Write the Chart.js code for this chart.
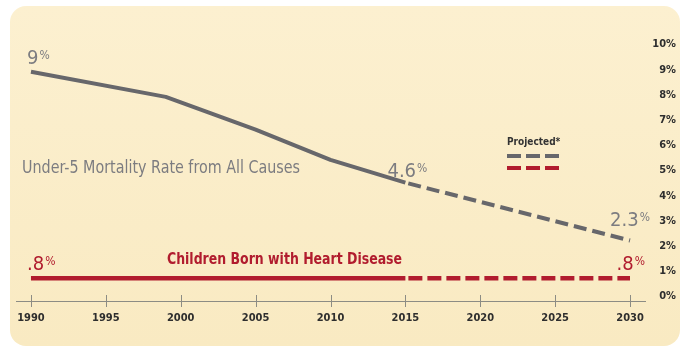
<!DOCTYPE html>
<html>
<head>
<meta charset="utf-8">
<script src="https://cdn.jsdelivr.net/npm/chart.js@4"></script>
<style>
  html, body { margin: 0; padding: 0; background: #ffffff; }
  #wrap { width: 682px; height: 354px; }
</style>
</head>
<body>
<div id="wrap"><canvas id="chart" width="682" height="354"></canvas></div>
<script>
// Under-5 mortality rate (%), measured years
const mortalityYears = [1990, 1999, 2005, 2010, 2015];
const mortalityRate = [9, 8.0, 6.7, 5.5, 4.6];
// Under-5 mortality rate (%), projection
const mortalityProjYears = [2015, 2030];
const mortalityProjRate = [4.6, 2.3];
// Children born with heart disease (%), measured and projected
const heartYears = [1990, 2015];
const heartRate = [0.8, 0.8];
const heartProjYears = [2015, 2030];
const heartProjRate = [0.8, 0.8];
// Axis ticks
const xTickYears = [1990, 1995, 2000, 2005, 2010, 2015, 2020, 2025, 2030];
const yTickValues = [0, 1, 2, 3, 4, 5, 6, 7, 8, 9, 10];

const FONT = '"Liberation Sans Narrow", "DejaVu Sans Condensed", "Roboto Condensed", sans-serif';
const GRAY_LINE = '#67676b';
const GRAY_TEXT = '#7c7c80';
const RED = '#b11c2e';
const AXIS = '#8c8c84';

const toPoints = (xs, ys) => xs.map((x, i) => ({ x, y: ys[i] }));

// Cream rounded panel behind everything
const panelPlugin = {
  id: 'panel',
  beforeDraw(chart) {
    const ctx = chart.ctx;
    const x = 10, y = 6, w = 670, h = 340, r = 16;
    ctx.save();
    const g = ctx.createLinearGradient(0, y, 0, y + h);
    g.addColorStop(0, '#fcf0d0');
    g.addColorStop(1, '#f9eac2');
    ctx.fillStyle = g;
    ctx.beginPath();
    ctx.roundRect(x, y, w, h, r);
    ctx.fill();
    ctx.restore();
  }
};

// Tick marks that cross the x axis line
const crossTicksPlugin = {
  id: 'crossTicks',
  afterDraw(chart) {
    const ctx = chart.ctx;
    const xs = chart.scales.x;
    const bottom = chart.chartArea.bottom;
    ctx.save();
    ctx.strokeStyle = AXIS;
    ctx.lineWidth = 1;
    xTickYears.forEach(yr => {
      const px = Math.round(xs.getPixelForValue(yr)) + 0.5;
      ctx.beginPath();
      ctx.moveTo(px, bottom - 6);
      ctx.lineTo(px, bottom + 6);
      ctx.stroke();
    });
    ctx.restore();
  }
};

// Text squeezed horizontally to a set width, like a condensed face
function condensedText(ctx, text, x, y, width) {
  const natural = ctx.measureText(text).width;
  const sx = Math.min(1, width / natural);
  ctx.save();
  ctx.translate(x, y);
  ctx.scale(sx, 1);
  ctx.fillText(text, 0, 0);
  ctx.restore();
}

// Value label: large number followed by a smaller raised percent sign
function valueLabel(ctx, num, x, baseline, align, color) {
  const bigFont = '400 20px ' + FONT;
  const smallFont = '400 12px ' + FONT;
  ctx.font = bigFont;
  const wNum = ctx.measureText(num).width;
  ctx.font = smallFont;
  const wPct = ctx.measureText('%').width;
  const total = wNum + 1 + wPct;
  let left = x;
  if (align === 'center') left = x - total / 2;
  else if (align === 'right') left = x - total;
  ctx.fillStyle = color;
  ctx.textAlign = 'left';
  ctx.textBaseline = 'alphabetic';
  ctx.font = bigFont;
  ctx.fillText(num, left, baseline);
  ctx.font = smallFont;
  ctx.fillText('%', left + wNum + 1, baseline - 5);
}

const annotationPlugin = {
  id: 'annotations',
  afterDatasetsDraw(chart) {
    const ctx = chart.ctx;
    const xs = chart.scales.x, ys = chart.scales.y;
    const px = v => xs.getPixelForValue(v);
    const py = v => ys.getPixelForValue(v);
    ctx.save();

    // Values at the ends of each series
    valueLabel(ctx, String(mortalityRate[0]), px(mortalityYears[0]) - 4, py(mortalityRate[0]) - 8, 'left', GRAY_TEXT);
    const lastIdx = mortalityRate.length - 1;
    valueLabel(ctx, String(mortalityRate[lastIdx]), px(mortalityYears[lastIdx]) + 2, py(mortalityRate[lastIdx]) - 6, 'center', GRAY_TEXT);
    const pEnd = mortalityProjRate.length - 1;
    valueLabel(ctx, String(mortalityProjRate[pEnd]), px(mortalityProjYears[pEnd]), py(mortalityProjRate[pEnd]) - 15, 'center', GRAY_TEXT);
    const heartLabel = v => String(v).replace(/^0/, '');
    valueLabel(ctx, heartLabel(heartRate[0]), px(heartYears[0]) - 4, py(heartRate[0]) - 8, 'left', RED);
    const hEnd = heartProjRate.length - 1;
    valueLabel(ctx, heartLabel(heartProjRate[hEnd]), px(heartProjYears[hEnd]) + 15, py(heartProjRate[hEnd]) - 8, 'right', RED);

    // Series names
    ctx.textAlign = 'left';
    ctx.textBaseline = 'alphabetic';
    ctx.font = '400 17.5px ' + FONT;
    ctx.fillStyle = GRAY_TEXT;
    condensedText(ctx, 'Under-5 Mortality Rate from All Causes', 22, 173, 278);
    ctx.font = '700 16px ' + FONT;
    ctx.fillStyle = RED;
    condensedText(ctx, 'Children Born with Heart Disease', 167, 264, 235);

    // Key for the projected segments
    ctx.font = '700 10px ' + FONT;
    ctx.fillStyle = '#333333';
    ctx.fillText('Projected*', 507, 145);
    ctx.lineWidth = 4;
    ctx.lineCap = 'butt';
    ctx.setLineDash([14, 5]);
    ctx.strokeStyle = GRAY_LINE;
    ctx.beginPath(); ctx.moveTo(507, 156); ctx.lineTo(559, 156); ctx.stroke();
    ctx.strokeStyle = RED;
    ctx.beginPath(); ctx.moveTo(507, 168); ctx.lineTo(559, 168); ctx.stroke();
    ctx.restore();
  }
};

new Chart(document.getElementById('chart'), {
  type: 'line',
  data: {
    datasets: [
      {
        label: 'Under-5 mortality',
        data: toPoints(mortalityYears, mortalityRate),
        borderColor: GRAY_LINE, borderWidth: 4, borderCapStyle: 'butt', borderJoinStyle: 'round'
      },
      {
        label: 'Under-5 mortality (projected)',
        data: toPoints(mortalityProjYears, mortalityProjRate),
        borderColor: GRAY_LINE, borderWidth: 4, borderDash: [13, 6], borderDashOffset: -3, borderCapStyle: 'butt'
      },
      {
        label: 'Heart disease',
        data: toPoints(heartYears, heartRate),
        borderColor: RED, borderWidth: 4.5, borderCapStyle: 'butt'
      },
      {
        label: 'Heart disease (projected)',
        data: toPoints(heartProjYears, heartProjRate),
        borderColor: RED, borderWidth: 4.5, borderDash: [14, 5], borderDashOffset: -3, borderCapStyle: 'butt'
      }
    ]
  },
  options: {
    responsive: false,
    animation: false,
    layout: { padding: { left: 16, top: 46.5, right: 6, bottom: 0 } },
    elements: { point: { radius: 0, hoverRadius: 0 }, line: { tension: 0, fill: false } },
    plugins: { legend: { display: false }, tooltip: { enabled: false } },
    scales: {
      x: {
        type: 'linear',
        position: 'bottom',
        min: 1989,
        max: 2031,
        grid: { display: false },
        border: { display: true, color: AXIS, width: 1 },
        afterBuildTicks: s => { s.ticks = xTickYears.map(v => ({ value: v })); },
        afterFit: s => { s.height = 53; },
        ticks: {
          autoSkip: false,
          maxRotation: 0,
          padding: 3,
          color: '#2e2e2e',
          font: { family: FONT, size: 11, weight: '700' },
          callback: v => String(v)
        }
      },
      y: {
        type: 'linear',
        position: 'right',
        min: -0.1,
        max: 10,
        grid: { display: false },
        border: { display: false },
        afterBuildTicks: s => { s.ticks = yTickValues.map(v => ({ value: v })); },
        afterFit: s => { s.width = 31; },
        ticks: {
          padding: 6,
          crossAlign: 'far',
          labelOffset: -2,
          color: '#2e2e2e',
          font: { family: FONT, size: 11, weight: '700' },
          callback: v => v + '%'
        }
      }
    }
  },
  plugins: [panelPlugin, crossTicksPlugin, annotationPlugin]
});
</script>
</body>
</html>
